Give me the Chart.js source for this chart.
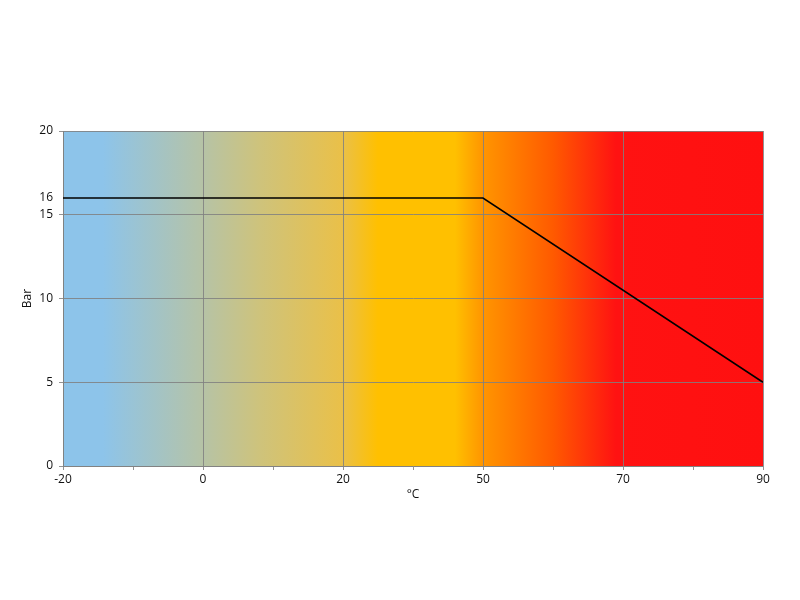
<!DOCTYPE html>
<html>
<head>
<meta charset="utf-8">
<script src="https://cdn.jsdelivr.net/npm/chart.js@4.4.1/dist/chart.umd.min.js"></script>
<style>
  html, body { margin: 0; padding: 0; background: #fff; }
  #wrap { width: 800px; height: 600px; }
</style>
</head>
<body>
<div id="wrap"><canvas id="tempChart" width="800" height="600"></canvas></div>
<script>
// data
var tempLabels = ['-20', '0', '20', '50', '70', '90'];
var pressure = [16, 16, 16, 16, null, 5];
var barTicks = [0, 5, 10, 15, 16, 20];

// background gradient (blue -> yellow -> red)
var bgStops = [
  [0, '#8DC4EA'], [0.057, '#8DC4EA'], [0.2, '#B6C3A6'], [0.28, '#CEC37C'],
  [0.4, '#EAC048'], [0.45, '#FFC000'], [0.56, '#FFC000'], [0.6, '#FF9500'],
  [0.7, '#FF5A00'], [0.79, '#FF1212'], [1, '#FF1010']
];

var gradientBg = {
  id: 'gradientBg',
  beforeDraw: function(chart) {
    var a = chart.chartArea, ctx = chart.ctx;
    var g = ctx.createLinearGradient(a.left, 0, a.right, 0);
    bgStops.forEach(function(s) { g.addColorStop(s[0], s[1]); });
    ctx.save();
    ctx.fillStyle = g;
    ctx.fillRect(a.left, a.top, a.right - a.left, a.bottom - a.top);
    ctx.restore();
  }
};

var points = pressure.map(function(v, i) { return { x: i, y: v }; });
var gridGrey = 'rgba(128,128,128,0.85)';

Chart.defaults.font.family = '"Open Sans", sans-serif';
Chart.defaults.font.size = 12;
Chart.defaults.color = '#111';

new Chart(document.getElementById('tempChart').getContext('2d'), {
  type: 'line',
  data: {
    datasets: [{
      data: points,
      borderColor: '#000',
      borderWidth: 1.6,
      pointRadius: 0,
      fill: false,
      tension: 0,
      spanGaps: true
    }]
  },
  options: {
    responsive: false,
    animation: false,
    layout: { padding: { left: 0, top: 131, right: 37, bottom: 94 } },
    plugins: { legend: { display: false }, tooltip: { enabled: false } },
    scales: {
      x: {
        type: 'linear',
        min: 0,
        max: tempLabels.length - 1,
        afterFit: function(s) { s.height = 40; },
        ticks: {
          stepSize: 0.5,
          padding: 2,
          autoSkip: false,
          maxRotation: 0,
          callback: function(v) { return Number.isInteger(v) ? tempLabels[v] : ''; }
        },
        grid: {
          color: function(c) { return Number.isInteger(c.tick.value) ? gridGrey : 'rgba(0,0,0,0)'; },
          tickColor: gridGrey,
          tickLength: 4
        },
        border: { color: gridGrey },
        title: { display: true, text: '°C', padding: { top: 0 } }
      },
      y: {
        min: 0,
        max: 20,
        afterFit: function(s) { s.width = 63; },
        afterBuildTicks: function(s) {
          s.ticks = barTicks.map(function(v) { return { value: v }; });
        },
        ticks: { padding: 6 },
        grid: {
          color: function(c) { return c.tick.value === 16 ? 'rgba(0,0,0,0)' : gridGrey; },
          tickColor: function(c) { return c.tick.value === 16 ? 'rgba(0,0,0,0)' : gridGrey; },
          tickLength: 4
        },
        border: { color: gridGrey },
        title: { display: true, text: 'Bar', padding: { top: 20, bottom: 0 } }
      }
    }
  },
  plugins: [gradientBg]
});
</script>
</body>
</html>
